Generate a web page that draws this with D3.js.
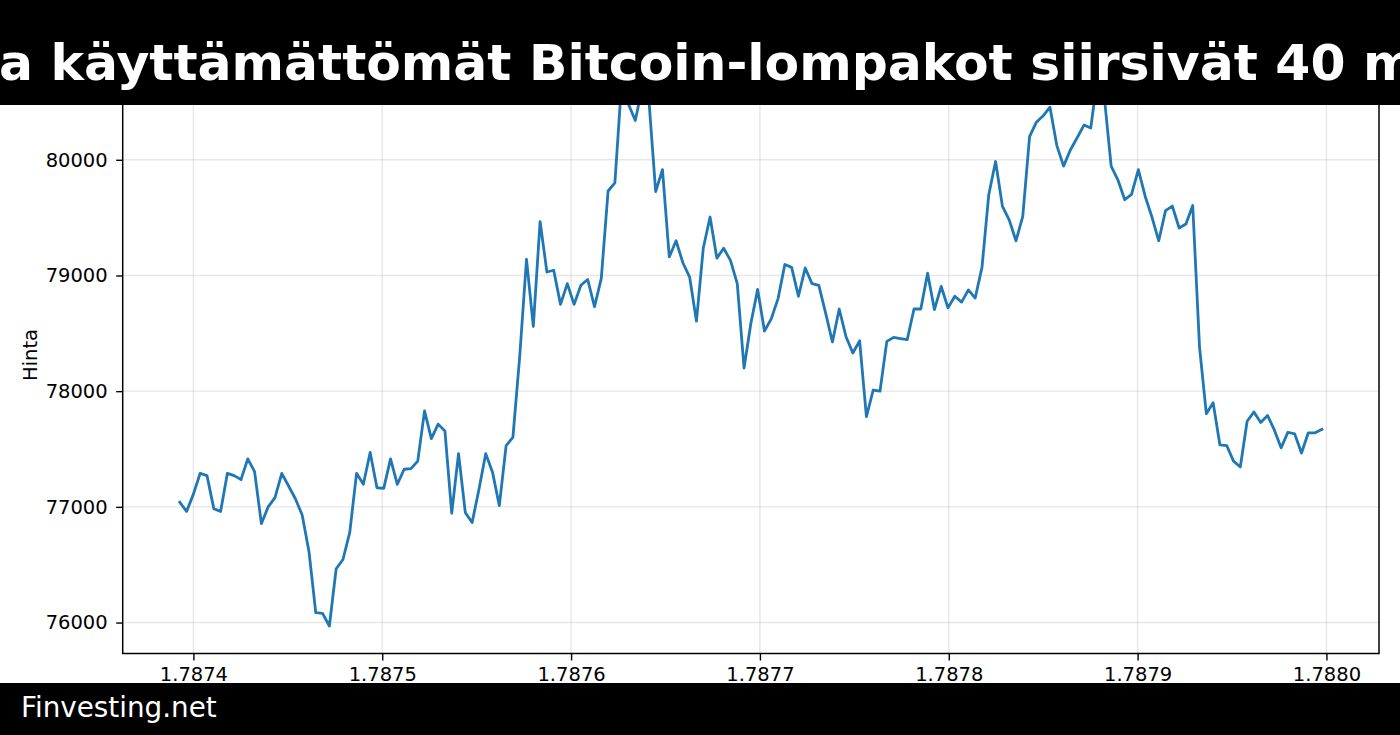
<!DOCTYPE html>
<html><head><meta charset="utf-8">
<script src="https://cdn.jsdelivr.net/npm/d3@7/dist/d3.min.js"></script>
<style>html,body{margin:0;padding:0;background:#fff;overflow:hidden}</style>
</head><body>
<svg id="c" width="1400" height="735"></svg>
<script>
const titleText = "a käyttämättömät Bitcoin-lompakot siirsivät 40 m";
const sourceText = "Finvesting.net";
const yLabelText = "Hinta";
const startTime = 1787392800;   // first hourly sample (unix seconds)
const stepSeconds = 3600;       // hourly data
const prices = [
  77040, 76960, 77110, 77290, 77270, 76985, 76960, 77290, 77270, 77235,
  77415, 77305, 76855, 77000, 77080, 77290, 77180, 77070, 76930, 76615,
  76085, 76080, 75970, 76465, 76545, 76780, 77290, 77195, 77470, 77165,
  77160, 77415, 77195, 77325, 77330, 77395, 77830, 77590, 77715, 77655,
  76945, 77460, 76950, 76865, 77150, 77460, 77300, 77010, 77530, 77600,
  78300, 79140, 78560, 79465, 79030, 79045, 78750, 78930, 78750, 78915,
  78965, 78730, 78975, 79730, 79800, 80680, 80480, 80340, 80620, 80520,
  79725, 79915, 79160, 79300, 79110, 78985, 78605, 79235, 79505, 79150,
  79235, 79130, 78930, 78200, 78585, 78880, 78520, 78625, 78800, 79095,
  79070, 78820, 79065, 78930, 78915, 78675, 78425, 78710, 78470, 78330,
  78435, 77780, 78010, 78000, 78430, 78465, 78455, 78445, 78710, 78710,
  79020, 78705, 78905, 78720, 78820, 78770, 78875, 78805, 79070, 79700,
  79985, 79600, 79480, 79300, 79510, 80200, 80325, 80380, 80455, 80125,
  79945, 80085, 80190, 80300, 80275, 80720, 80540, 79945, 79825, 79655,
  79700, 79915, 79685, 79505, 79300, 79560, 79600, 79410, 79445, 79605,
  78380, 77805, 77900, 77535, 77530, 77395, 77345, 77740, 77820, 77730,
  77790, 77665, 77510, 77645, 77630, 77465, 77640, 77640, 77670
];
const xTickValues = [1787400000, 1787500000, 1787600000, 1787700000, 1787800000, 1787900000, 1788000000];
const xTickLabels = ["1.7874", "1.7875", "1.7876", "1.7877", "1.7878", "1.7879", "1.7880"];
const yTickValues = [76000, 77000, 78000, 79000, 80000];

const svg = d3.select("#c");
const W = 1400, H = 735;
const m = {left: 122.7, right: 1379, top: 49, bottom: 653.5};
const FONT = "'DejaVu Sans', sans-serif";

const times = prices.map((_, i) => startTime + i * stepSeconds);
const data = times.map((t, i) => ({t, v: prices[i]}));
const xExt = d3.extent(times), yExt = d3.extent(prices);
const xPad = (xExt[1] - xExt[0]) * 0.05, yPad = (yExt[1] - yExt[0]) * 0.05;
const x = d3.scaleLinear().domain([xExt[0] - xPad, xExt[1] + xPad]).range([m.left, m.right]);
const y = d3.scaleLinear().domain([yExt[0] - yPad, yExt[1] + yPad]).range([m.bottom, m.top]);

svg.append("rect").attr("width", W).attr("height", H).attr("fill", "#fff");

// grid
const grid = svg.append("g");
grid.selectAll("line.gx").data(xTickValues).join("line")
  .attr("x1", d => x(d)).attr("x2", d => x(d)).attr("y1", m.top).attr("y2", m.bottom)
  .attr("stroke", "#b0b0b0").attr("stroke-opacity", 0.3).attr("stroke-width", 1.4);
grid.selectAll("line.gy").data(yTickValues).join("line")
  .attr("y1", d => y(d)).attr("y2", d => y(d)).attr("x1", m.left).attr("x2", m.right)
  .attr("stroke", "#b0b0b0").attr("stroke-opacity", 0.3).attr("stroke-width", 1.4);

// line
svg.append("path").datum(data)
  .attr("d", d3.line().x(d => x(d.t)).y(d => y(d.v)))
  .attr("fill", "none").attr("stroke", "#1f77b4").attr("stroke-width", 2.8)
  .attr("stroke-linejoin", "round").attr("stroke-linecap", "square");

// axes
const xAxis = d3.axisBottom(x).tickValues(xTickValues)
  .tickFormat((d, i) => xTickLabels[i]).tickSize(7).tickSizeOuter(0).tickPadding(7);
const gx = svg.append("g").attr("transform", `translate(0,${m.bottom})`).call(xAxis);
const yAxis = d3.axisLeft(y).tickValues(yTickValues).tickFormat(d3.format("d"))
  .tickSize(6.5).tickSizeOuter(0).tickPadding(8.5);
const gy = svg.append("g").attr("transform", `translate(${m.left},0)`).call(yAxis);
[gx, gy].forEach(g => {
  g.select(".domain").remove();
  g.selectAll(".tick line").attr("stroke", "#000").attr("stroke-width", 1.4);
  g.selectAll(".tick text").attr("fill", "#000").style("font-family", FONT).style("font-size", "19.5px");
});

// spines
svg.append("rect").attr("x", m.left).attr("y", m.top)
  .attr("width", m.right - m.left).attr("height", m.bottom - m.top)
  .attr("fill", "none").attr("stroke", "#000").attr("stroke-width", 1.5);

// y label
svg.append("text").attr("transform", "translate(36.5,355) rotate(-90)")
  .attr("text-anchor", "middle").style("font-family", FONT).style("font-size", "19.5px")
  .attr("fill", "#000").text(yLabelText);

// title bar
svg.append("rect").attr("x", 0).attr("y", 0).attr("width", W).attr("height", 105).attr("fill", "#000");
svg.append("text").attr("x", -1).attr("y", 80)
  .style("font-family", FONT).style("font-weight", "bold").style("font-size", "50.4px")
  .attr("fill", "#fff").text(titleText);

// footer bar
svg.append("rect").attr("x", 0).attr("y", 683).attr("width", W).attr("height", H - 683).attr("fill", "#000");
svg.append("text").attr("x", 21).attr("y", 717)
  .style("font-family", FONT).style("font-size", "27.8px").attr("fill", "#fff").text(sourceText);
</script>
</body></html>
